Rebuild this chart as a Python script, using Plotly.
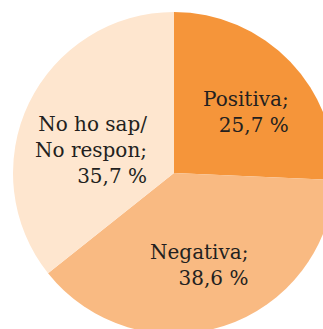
import plotly.graph_objects as go

# Survey answer shares (percent)
categories = ["Positiva", "Negativa", "No ho sap/<br>No respon"]
values = [25.7, 38.6, 35.7]
colors = ["#F5953A", "#F9BA82", "#FEE6CF"]

W, H = 340, 340
cx, cy, r = 174, 173, 161  # pie centre and radius in pixels

fig = go.Figure(
    go.Pie(
        labels=categories,
        values=values,
        sort=False,
        direction="clockwise",
        rotation=0,
        marker=dict(colors=colors, line=dict(width=0)),
        textinfo="none",
        hoverinfo="label+percent",
        domain=dict(x=[(cx - r) / W, (cx + r) / W],
                    y=[(H - cy - r) / H, (H - cy + r) / H]),
    )
)

# label anchor points (right edge, vertical middle) in pixels
label_pos = [(291, 112), (250, 265), (149, 150)]


def fmt(v):
    return f"{v:.1f}".replace(".", ",") + " %"


for name, v, (px, py) in zip(categories, values, label_pos):
    fig.add_annotation(
        x=px / W, y=1 - py / H, xref="paper", yref="paper",
        xanchor="right", yanchor="middle", align="right",
        text=f"{name};<br>{fmt(v)}", showarrow=False,
        font=dict(family="DejaVu Serif", size=20, color="#231F20"),
    )

fig.update_layout(
    width=W, height=H,
    margin=dict(l=0, r=0, t=0, b=0),
    paper_bgcolor="white",
    showlegend=False,
)

fig.write_html("out.html", post_script="document.body.style.overflow='hidden';")
